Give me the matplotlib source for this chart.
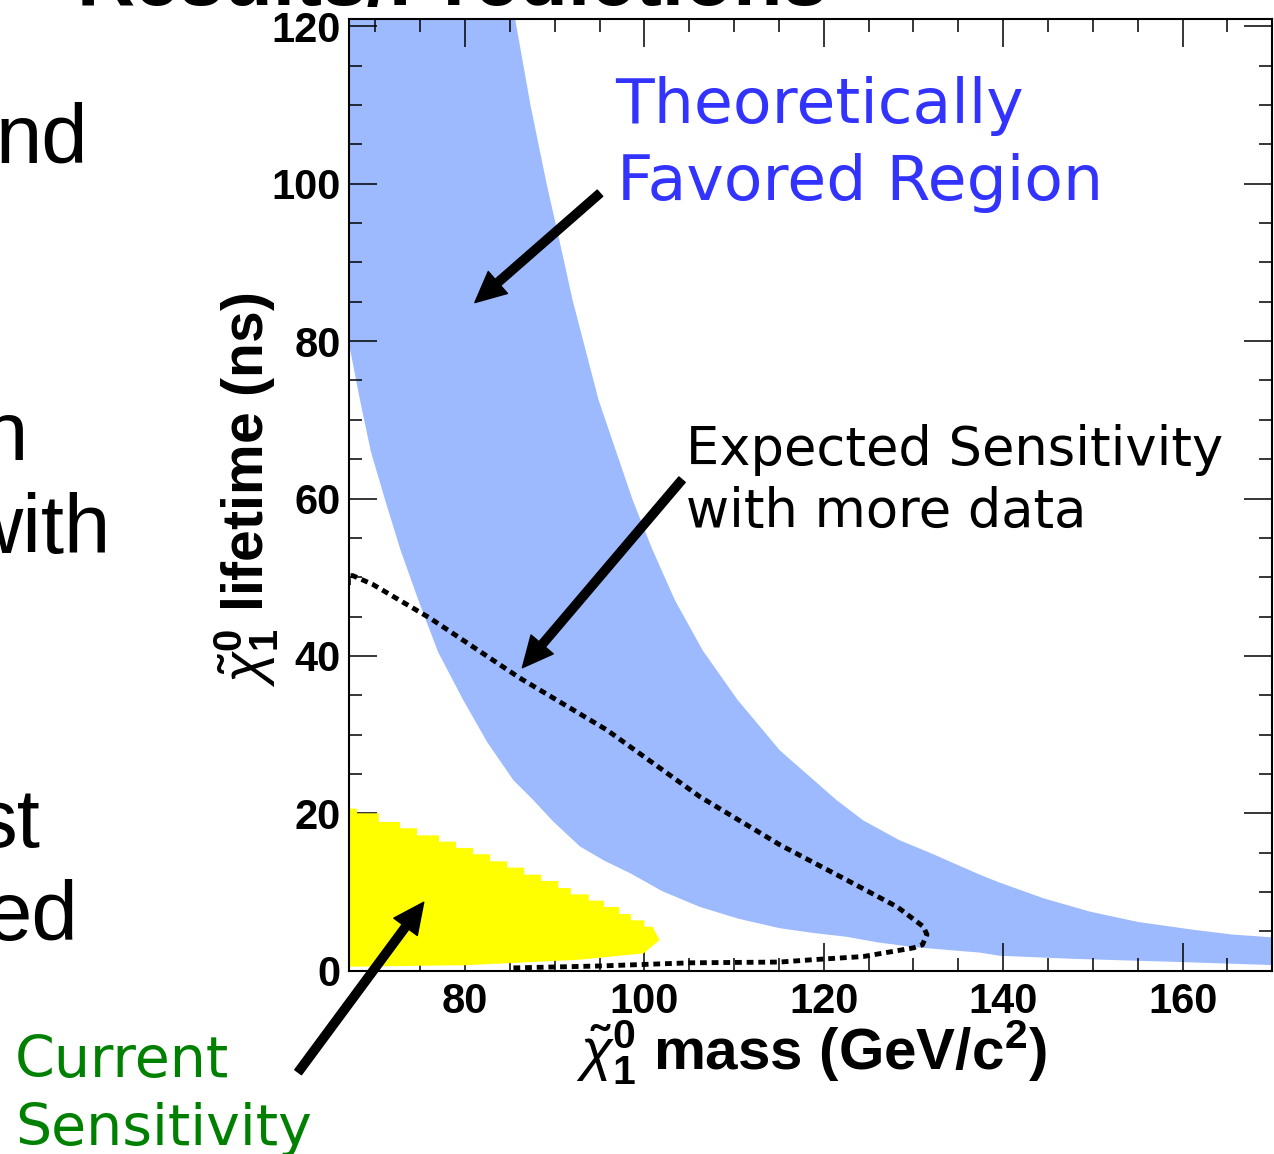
import numpy as np
import matplotlib
matplotlib.use("Agg")
import matplotlib.pyplot as plt
from matplotlib.ticker import MultipleLocator

# --- data (mass in GeV/c^2, lifetime in ns) ---
# theoretically favored band: upper and lower edges
band_hi_mass = [85.2, 85.6, 87.3, 89.1, 90.8, 92.0, 94.9, 98.7, 100.9, 103.4,
                106.5, 110.4, 115.1, 121.4, 124.4, 128.4, 131.8, 137.4, 139.6,
                144.5, 149.7, 155.0, 161.2, 165.5, 170.5]
band_hi_life = [125.0, 120.9, 110.0, 100.0, 91.4, 85.2, 72.5, 59.8, 53.5, 47.1,
                40.7, 34.4, 28.0, 21.7, 19.1, 16.6, 15.0, 12.2, 11.2,
                9.2, 7.5, 6.2, 5.2, 4.6, 4.2]
band_lo_mass = [66.0, 66.0, 67.0, 68.3, 69.5, 71.1, 72.8, 74.8, 77.0, 79.8, 82.5,
                85.4, 87.6, 89.8, 92.8, 95.5, 98.4, 102.0, 106.2, 110.5, 115.1,
                118.8, 122.6, 126.0, 130.0, 137.4, 139.6, 148.0, 159.8, 170.5]
band_lo_life = [125.0, 92.0, 80.1, 72.5, 66.0, 59.8, 53.5, 47.1, 40.5, 34.4, 29.0,
                24.2, 21.7, 19.0, 15.8, 14.0, 12.4, 10.1, 8.1, 6.6, 5.4,
                4.8, 4.3, 3.6, 3.0, 2.3, 1.9, 1.5, 1.1, 0.7]

# expected sensitivity contour (dotted)
exp_mass = [67.0, 67.0, 67.5, 69.7, 76.1, 86.1, 95.8, 106.2, 115.1, 122.6, 128.2,
            131.1, 131.5, 131.0, 130.0, 124.4, 118.8, 115.1, 105.1, 95.0, 85.2]
exp_life = [49.0, 50.2, 50.2, 49.1, 44.8, 37.2, 30.6, 22.1, 16.0, 11.5, 8.1,
            5.6, 4.6, 3.3, 2.9, 1.8, 1.4, 1.1, 1.0, 0.6, 0.35]

# current sensitivity (binned, yellow): bin edges in mass and top of each bin
cur_edges = [66.5, 67.96, 70.4, 72.76, 74.65, 77.1, 79.0, 80.9, 82.8, 84.7,
             86.6, 88.5, 90.4, 91.8, 93.8, 95.5, 97.2, 98.5, 100.0, 100.9]
cur_tops = [20.6, 20.0, 18.9, 18.1, 17.2, 16.4, 15.6, 14.8, 13.9, 13.1,
            12.2, 11.4, 10.5, 9.7, 8.9, 8.1, 7.2, 6.4, 5.6]
cur_low_mass = [101.7, 99.9, 92.8, 80.2, 66.5]
cur_low_life = [3.9, 2.2, 1.4, 0.7, 0.5]

W, H = 1274, 1154

plt.rcParams["mathtext.fontset"] = "custom"
plt.rcParams["mathtext.rm"] = "Liberation Sans:bold"
plt.rcParams["mathtext.it"] = "Liberation Sans:italic"
plt.rcParams["mathtext.bf"] = "Liberation Sans:bold"

fig = plt.figure(figsize=(W / 100, H / 100), dpi=100)
ax = fig.add_axes([349 / W, 1 - 970.7 / H, 923 / W, (970.7 - 18.5) / H])


def px(x, y):
    return x / W, 1 - y / H


# blue band
poly_m = list(band_hi_mass) + band_lo_mass[::-1]
poly_l = list(band_hi_life) + band_lo_life[::-1]
ax.fill(poly_m, poly_l, color="#9cbafd", lw=0, zorder=1)

# yellow staircase
xs = np.repeat(cur_edges, 2)[1:-1]
ys = np.repeat(cur_tops, 2)
ym = np.concatenate([xs, cur_low_mass])
yl = np.concatenate([ys, cur_low_life])
ax.fill(ym, yl, color="#ffff00", lw=0, zorder=2)

# dotted expected sensitivity
ax.plot(exp_mass, exp_life, color="black", lw=3.5, ls=(0, (1.4, 1.0)),
        dash_capstyle="butt", zorder=3)

ax.set_xlim(67.07, 169.97)
ax.set_ylim(0, 121)
ax.xaxis.set_major_locator(MultipleLocator(20))
ax.xaxis.set_minor_locator(MultipleLocator(5))
ax.yaxis.set_major_locator(MultipleLocator(20))
ax.yaxis.set_minor_locator(MultipleLocator(5))
ax.tick_params(which="both", direction="in", top=True, right=True, width=1.1,
               color="black")
ax.tick_params(which="major", length=20)
ax.tick_params(which="minor", length=9.5)
ax.tick_params(axis="y", pad=6)
ax.tick_params(axis="x", pad=8)
for lab in ax.get_xticklabels() + ax.get_yticklabels():
    lab.set_fontfamily("Liberation Sans")
    lab.set_fontweight("bold")
    lab.set_fontsize(30)
for s in ax.spines.values():
    s.set_linewidth(1.5)

# axis labels
fig.text(*px(811, 1070), r"$\tilde{\chi}^{0}_{1}$ mass (GeV/c$^{2}$)",
         ha="center", va="baseline", fontsize=42, fontweight="bold",
         family="Liberation Sans")
fig.text(*px(247, 490), r"$\tilde{\chi}^{0}_{1}$ lifetime (ns)",
         ha="center", va="center", rotation=90, fontsize=41, fontweight="bold",
         family="Liberation Sans")

# annotations
fig.text(*px(615, 123), "Theoretically", color="#3333ff", fontsize=45.5,
         family="DejaVu Sans", va="baseline")
fig.text(*px(617, 200), "Favored Region", color="#3333ff", fontsize=45.5,
         family="DejaVu Sans", va="baseline")
fig.text(*px(686, 465), "Expected Sensitivity", color="black", fontsize=38,
         family="DejaVu Sans", va="baseline")
fig.text(*px(686, 527), "with more data", color="black", fontsize=38,
         family="DejaVu Sans", va="baseline")
fig.text(*px(15, 1077), "Current", color="#008000", fontsize=41,
         family="DejaVu Sans", va="baseline")
fig.text(*px(15, 1145), "Sensitivity", color="#008000", fontsize=41,
         family="DejaVu Sans", va="baseline")

arrow = dict(facecolor="black", edgecolor="black", width=6, headwidth=21,
             headlength=22, shrink=0)
ax.annotate("", xy=(81.1, 84.9), xytext=(95.05, 98.8), arrowprops=arrow,
            annotation_clip=False)
ax.annotate("", xy=(86.4, 38.5), xytext=(104.2, 62.4), arrowprops=arrow,
            annotation_clip=False)
ax.annotate("", xy=(75.4, 8.7), xytext=(61.4, -12.9), arrowprops=arrow,
            annotation_clip=False)

# slide text partly hidden behind the plot
fig.text(*px(828, 5), "Results/Predictions", ha="right", va="baseline",
         fontsize=58, fontweight="bold", family="Liberation Sans")
for t, x, y in [("nd", 88, 163), ("n", 28, 460), ("with", 110, 553),
                ("st", 40, 847), ("ed", 78, 940)]:
    fig.text(*px(x, y), t, ha="right", va="baseline", fontsize=60,
             family="Liberation Sans")

fig.savefig("out.png", dpi=100)
